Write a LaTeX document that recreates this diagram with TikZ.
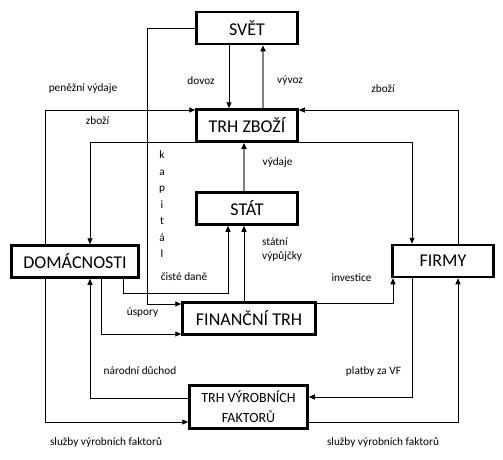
\documentclass[tikz,border=0pt]{standalone}
\usepackage{fontspec}
\setmainfont{Carlito}
\usetikzlibrary{arrows.meta}
\begin{document}
\begin{tikzpicture}[x=1pt,y=-1pt,
 box/.style={draw,line width=2.5pt,inner sep=0pt,font=\fontsize{18}{20}\selectfont,align=center},
 arr/.style={line width=0.9pt,-{Triangle[length=6pt,width=5pt]}},
 arrg/.style={line width=1.8pt,draw=gray,-{Triangle[length=6pt,width=5pt,color=black]}},
 lab/.style={font=\fontsize{11.3}{13}\selectfont,inner sep=0pt}]
\useasboundingbox[fill=white] (0,0) rectangle (503,459);
% boxes
\node[box,minimum width=101pt,minimum height=32pt] (svet) at (247,28) {SVĚT};
\node[box,minimum width=101pt,minimum height=32pt] (trhz) at (247,125.5) {TRH ZBOŽÍ};
\node[box,minimum width=101pt,minimum height=32pt] (stat) at (247,208.5) {STÁT};
\node[box,minimum width=127pt,minimum height=32pt] (dom) at (75,261.5) {DOMÁCNOSTI};
\node[box,minimum width=101pt,minimum height=32pt] (firmy) at (443,261) {FIRMY};
\node[box,minimum width=133pt,minimum height=32pt] (fin) at (249,318.5) {FINANČNÍ TRH};
\node[box,minimum width=118pt,minimum height=43pt,font=\fontsize{14}{20}\selectfont] (vf) at (248.5,407) {TRH VÝROBNÍCH\\FAKTORŮ};
% connectors
\draw[arr] (svet.west) -| (147,304) -- (fin.west |- 0,304);
\draw[arr] (229,0 |- svet.south) -- (229,0 |- trhz.north);
\draw[arrg] (263,0 |- trhz.north) -- (263,0 |- svet.south);
\draw[arr] (45,0 |- dom.north) |- (trhz.west |- 0,110);
\draw[arr] (458,0 |- firmy.north) |- (trhz.east |- 0,110);
\draw[arr] (trhz.west |- 0,142) -| (90,0 |- dom.north);
\draw[arr] (trhz.east |- 0,142) -| (412,0 |- firmy.north);
\draw[arrg] (244,0 |- stat.north) -- (244,0 |- trhz.south);
\draw[arr] (244,0 |- fin.north) -- (244,0 |- stat.south);
\draw[arr] (123,0 |- dom.south) |- (228,293) -- (228,0 |- stat.south);
\draw[arr] (101,0 |- dom.south) |- (fin.west |- 0,334);
\draw[arr] (fin.east |- 0,303) -| (393,0 |- firmy.south);
\draw[arr] (vf.west |- 0,398) -| (90,0 |- dom.south);
\draw[arr] (45,0 |- dom.south) |- (vf.west |- 0,422);
\draw[arr] (412,0 |- firmy.south) |- (vf.east |- 0,397);
\draw[arr] (vf.east |- 0,422) -| (458,0 |- firmy.south);
% labels
\node[lab] (l1) at (83,89) {peněžní výdaje};
\node[lab] (l2) at (97.5,121) {zboží};
\node[lab] (l3) at (201,81) {dovoz};
\node[lab] (l4) at (290,81) {vývoz};
\node[lab] (l5) at (383,89) {zboží};
\node[lab] (l6) at (277.5,163) {výdaje};
\node[lab,align=left,anchor=west,font=\fontsize{11.3}{14}\selectfont] (l7) at (262,250) {státní\\výpůjčky};
\node[lab] (l8) at (351.5,278) {investice};
\node[lab] (l9) at (184,277) {čisté daně};
\node[lab] (l10) at (142.5,313) {úspory};
\node[lab] (l11) at (140,371) {národní důchod};
\node[lab] (l12) at (106,442) {služby výrobních faktorů};
\node[lab] (l13) at (383,442) {služby výrobních faktorů};
\node[lab] (l14) at (373.5,371) {platby za VF};
\node[lab,align=center,font=\fontsize{11.3}{16.5}\selectfont] (kap) at (162,204.5) {k\\a\\p\\i\\t\\á\\l};
\end{tikzpicture}
\end{document}
